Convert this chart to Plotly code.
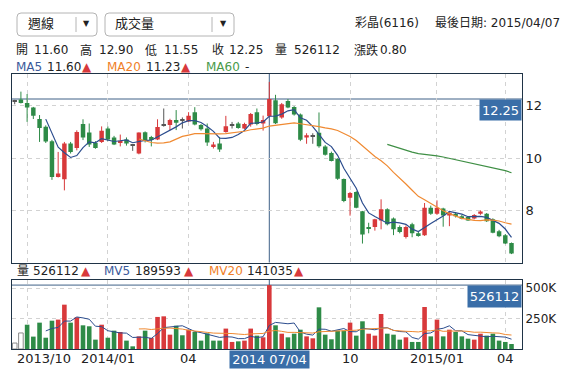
import plotly.graph_objects as go
import pandas as pd

# ---------------- data (weekly bars) ----------------
opens = [12.17, 12.23, 12.10, 11.93, 11.49, 11.20, 10.65, 9.29, 9.20, 10.56,
         10.39, 11.30, 10.98, 10.58, 10.62, 11.13, 10.79, 10.58, 10.71, 10.50,
         10.18, 10.99, 10.81, 10.71, 11.28, 11.26, 11.45, 11.45, 11.40, 11.75,
         11.26, 11.13, 10.43, 10.56, 11.00, 11.28, 11.32, 11.13, 11.28, 11.75,
         11.32, 11.60, 12.20, 11.55, 12.17, 11.95, 11.66, 10.79, 10.85, 10.97,
         10.45, 10.20, 9.98, 9.21, 8.50, 8.72, 7.99, 7.39, 7.39, 7.64,
         8.06, 7.71, 7.39, 7.01, 7.49, 7.15, 7.08, 8.12, 7.89, 8.09,
         7.83, 7.89, 7.80, 7.77, 7.71, 7.89, 7.89, 7.68, 7.23, 7.08,
         6.78]
highs = [12.22, 12.53, 12.44, 11.95, 11.64, 11.25, 10.70, 10.24, 10.62, 10.62,
         11.06, 11.48, 11.32, 10.65, 11.21, 11.21, 10.85, 10.90, 10.79, 10.52,
         10.98, 11.02, 10.85, 11.48, 11.89, 11.50, 11.83, 11.55, 11.75, 11.94,
         11.30, 11.32, 10.62, 10.81, 11.61, 11.38, 11.38, 11.35, 11.72, 11.89,
         11.62, 12.90, 12.41, 12.10, 12.25, 11.98, 11.70, 10.95, 10.95, 11.74,
         10.50, 10.25, 10.00, 9.23, 8.72, 8.75, 8.00, 7.55, 7.70, 8.44,
         8.10, 7.75, 7.45, 7.45, 7.55, 7.20, 8.30, 8.20, 8.40, 8.12,
         7.95, 7.95, 7.85, 7.80, 7.88, 8.02, 7.92, 7.72, 7.28, 7.12,
         6.80]
lows = [12.05, 12.08, 11.38, 11.49, 10.62, 10.58, 9.18, 9.27, 8.78, 10.18,
        10.30, 10.69, 10.43, 10.36, 10.58, 10.65, 10.50, 10.45, 10.48, 10.28,
        10.15, 10.60, 10.45, 10.69, 11.20, 11.06, 11.07, 11.13, 11.38, 11.25,
        11.05, 10.47, 10.37, 10.24, 10.97, 11.13, 11.12, 11.10, 11.20, 11.25,
        11.05, 11.55, 11.30, 11.50, 11.90, 11.62, 10.65, 10.55, 10.55, 10.40,
        10.10, 9.88, 9.18, 8.33, 7.82, 8.10, 6.76, 7.15, 7.25, 7.30,
        7.45, 7.08, 7.15, 6.95, 7.00, 7.02, 7.05, 7.85, 7.85, 7.40,
        7.42, 7.75, 7.68, 7.62, 7.68, 7.85, 7.58, 7.15, 7.00, 6.74,
        6.36]
closes = [12.17, 12.10, 11.93, 11.61, 11.15, 10.64, 9.29, 9.42, 10.56, 10.24,
          11.00, 10.79, 10.52, 10.39, 11.04, 10.71, 10.52, 10.66, 10.56, 10.50,
          10.98, 10.69, 10.69, 11.19, 11.28, 11.45, 11.35, 11.45, 11.61, 11.28,
          11.10, 10.60, 10.52, 10.33, 11.22, 11.28, 11.15, 11.30, 11.68, 11.30,
          11.45, 12.25, 11.33, 12.05, 11.93, 11.66, 10.70, 10.87, 10.85, 10.46,
          10.13, 9.90, 9.22, 8.38, 8.68, 8.12, 7.10, 7.34, 7.68, 8.06,
          7.49, 7.30, 7.20, 7.39, 7.15, 7.05, 8.12, 7.89, 8.12, 7.83,
          7.93, 7.80, 7.70, 7.64, 7.84, 7.98, 7.61, 7.17, 7.04, 6.76,
          6.38]
volumes = [49000, 132000, 200000, 102000, 217000, 93000, 233000, 242000, 365000, 217000,
           261000, 195000, 187000, 77000, 200000, 93000, 151000, 140000, 69000, 22000,
           104000, 151000, 91000, 264000, 269000, 118000, 192000, 113000, 159000, 140000,
           69000, 129000, 69000, 69000, 168000, 58000, 63000, 69000, 168000, 110000,
           96000, 526112, 195000, 126000, 96000, 126000, 159000, 104000, 88000, 343000,
           118000, 80000, 151000, 151000, 217000, 110000, 228000, 126000, 110000, 288000,
           126000, 118000, 77000, 96000, 58000, 58000, 346000, 104000, 242000, 104000,
           159000, 140000, 104000, 85000, 77000, 126000, 110000, 126000, 69000, 58000,
           41000]
# volume bar direction as drawn: u = up (red), d = down (green), n = neutral (hollow)
volume_dir = "".join([
    "nnddddduud",
    "uddduddudd",
    "uduuuuddud",
    "dddduuduud",
    "uududdduud",
    "ddddudduuu",
    "ddduddudud",
    "uddduudddd",
    "d",
])

month_grid = [2, 15, 28, 41, 54, 68, 79]
tick_index = [15, 28, 54, 68, 79]
tick_labels = ["2014/01", "04", "10", "2015/01", "04"]
first_tick_label = "2013/10"
cross_index = 41
cross_label = "2014 07/04"
cross_close = 12.25
cross_volume = 526112
price_ticks = [8, 10, 12]
vol_ticks = [250000, 500000]
vol_tick_labels = ["250K", "500K"]

# ---------------- styling ----------------
FONT = "DejaVu Sans, Noto Sans CJK TC, sans-serif"
RED, GREEN, DOJI = "#d8393b", "#2e8b47", "#555555"
BLUE_MA, ORANGE_MA, GREEN_MA = "#2c4d8e", "#f08a32", "#3f8f45"
GRID, FRAME, CROSS, TAG = "#d2d2d2", "#1f3346", "#3f6187", "#3a6ea8"
TXT = "#222222"


def px_x(px):
    return (px - 12) / 510


def px_y(py):
    return (349 - py) / 275


n = len(closes)
idx = list(range(n))
fig = go.Figure()

up = [i for i in idx if closes[i] > opens[i]]
down = [i for i in idx if closes[i] < opens[i]]
flat = [i for i in idx if closes[i] == opens[i]]

for ids, col in ((up, RED), (down, GREEN), (flat, DOJI)):
    xs, ys = [], []
    for i in ids:
        xs += [i, i, None]
        ys += [lows[i], highs[i], None]
    fig.add_trace(go.Scatter(x=xs, y=ys, mode="lines", line=dict(color=col, width=1),
                             xaxis="x", yaxis="y", hoverinfo="skip", showlegend=False))
    fig.add_trace(go.Bar(
        x=ids,
        y=[max(abs(closes[i] - opens[i]), 0.04) for i in ids],
        base=[min(opens[i], closes[i]) - (0.02 if closes[i] == opens[i] else 0) for i in ids],
        width=0.72, marker=dict(color=col, line=dict(width=0)),
        xaxis="x", yaxis="y", showlegend=False))


def moving_average(values, k):
    m = pd.Series(values, dtype=float).rolling(k).mean()
    m.iloc[:k] = float("nan")
    return m.tolist()


for k, col in ((5, BLUE_MA), (20, ORANGE_MA), (60, GREEN_MA)):
    fig.add_trace(go.Scatter(x=idx, y=moving_average(closes, k), mode="lines",
                             line=dict(color=col, width=1.2), xaxis="x", yaxis="y",
                             hoverinfo="skip", showlegend=False))

# volume
for key, fill, edge in (("u", RED, RED), ("d", GREEN, GREEN), ("n", "white", "#8a8a8a")):
    ids = [i for i in idx if volume_dir[i] == key]
    fig.add_trace(go.Bar(x=ids, y=[volumes[i] for i in ids], width=0.74,
                         marker=dict(color=fill, line=dict(color=edge, width=1 if key == "n" else 0)),
                         xaxis="x2", yaxis="y2", showlegend=False))
for k, col in ((5, BLUE_MA), (20, ORANGE_MA)):
    fig.add_trace(go.Scatter(x=idx, y=moving_average(volumes, k), mode="lines",
                             line=dict(color=col, width=1), xaxis="x2", yaxis="y2",
                             hoverinfo="skip", showlegend=False))

# the month grid line under the crosshair is hidden by it
grid_x = [g for g in month_grid if g != cross_index]
axis_common = dict(showgrid=True, gridcolor=GRID, griddash="4px,4px", zeroline=False,
                   showline=True, mirror=True, linecolor=FRAME, linewidth=1, ticks="")

fig.update_layout(
    width=576, height=379,
    margin=dict(l=12, r=54, t=74, b=30, autoexpand=False),
    paper_bgcolor="white", plot_bgcolor="white", barmode="overlay", showlegend=False,
    font=dict(family=FONT, size=12, color=TXT),
    xaxis=dict(domain=[0, 1], anchor="y", range=[-0.435, 81.69], tickvals=grid_x,
               showticklabels=False, **axis_common),
    yaxis=dict(domain=[0.3145, 1], anchor="x", range=[6.04, 13.2], side="right",
               tickvals=price_ticks, tickfont=dict(size=13, color=TXT), **axis_common),
    xaxis2=dict(domain=[0, 1], anchor="y2", range=[-0.435, 81.69], tickvals=grid_x,
                showticklabels=False, **axis_common),
    yaxis2=dict(domain=[0, 0.2509], anchor="x2", range=[0, 568000], side="right",
                tickvals=vol_ticks, ticktext=vol_tick_labels,
                tickfont=dict(size=12, color=TXT), **axis_common),
)

# crosshair
shapes = [
    dict(type="line", xref="x", yref="y domain", x0=cross_index, x1=cross_index, y0=0, y1=1,
         line=dict(color=CROSS, width=1), layer="below"),
    dict(type="line", xref="x domain", yref="y", x0=0, x1=1, y0=cross_close, y1=cross_close,
         line=dict(color=CROSS, width=1), layer="below"),
    dict(type="line", xref="x2", yref="y2 domain", x0=cross_index, x1=cross_index, y0=0, y1=1,
         line=dict(color=CROSS, width=1), layer="below"),
    dict(type="line", xref="x2 domain", yref="y2", x0=0, x1=1, y0=cross_volume, y1=cross_volume,
         line=dict(color=CROSS, width=1), layer="below"),
]


def rounded_box(x0, y0, x1, y1, r=4):
    X = px_x
    Y = px_y
    return ("M {a},{b} L {c},{b} Q {d},{b} {d},{e} L {d},{f} Q {d},{g} {c},{g} "
            "L {a},{g} Q {h},{g} {h},{f} L {h},{e} Q {h},{b} {a},{b} Z").format(
        a=X(x0 + r), b=Y(y0), c=X(x1 - r), d=X(x1), e=Y(y0 + r), f=Y(y1 - r), g=Y(y1), h=X(x0))


for (bx0, bx1, sep) in ((17, 97, 76), (105, 234, 212)):
    shapes.append(dict(type="path", xref="paper", yref="paper", path=rounded_box(bx0, 13, bx1, 36),
                       line=dict(color="#b4b4b4", width=1), fillcolor="white"))
    shapes.append(dict(type="line", xref="paper", yref="paper", x0=px_x(sep), x1=px_x(sep),
                       y0=px_y(17), y1=px_y(32), line=dict(color="#b4b4b4", width=1)))
fig.update_layout(shapes=shapes)

ann = []


def txt(s, px, py, color=TXT, size=12, anchor="left"):
    ann.append(dict(text=s, xref="paper", yref="paper", x=px_x(px), y=px_y(py),
                    xanchor=anchor, yanchor="middle", showarrow=False,
                    font=dict(family=FONT, size=size, color=color)))


# top row
txt("週線", 26, 24, size=13)
txt("▼", 86, 24, size=8, anchor="center")
txt("成交量", 113, 24, size=13)
txt("▼", 223, 24, size=8, anchor="center")
txt("彩晶(6116)", 353, 23)
txt("最後日期: 2015/04/07", 433, 23)

# OHLC row
for s, x in (("開", 14), ("11.60", 32), ("高", 78), ("12.90", 97), ("低", 143), ("11.55", 162),
             ("收", 210), ("12.25", 227), ("量", 273), ("526112", 292), ("漲跌", 352), ("0.80", 378)):
    txt(s, x, 50)

# MA row
txt("MA5", 14, 67, color="#3b5a9a")
txt("11.60", 45, 67)
txt("▲", 80, 67, color=RED)
txt("MA20", 105, 67, color="#f07f2a")
txt("11.23", 144, 67)
txt("▲", 179, 67, color=RED)
txt("MA60", 204, 67, color="#4a9a4a")
txt("-", 243, 67)

# volume header row
txt("量", 15, 271)
txt("526112", 31, 271)
txt("▲", 79, 271, color=RED)
txt("MV5", 102, 271, color="#3b5a9a")
txt("189593", 133, 271)
txt("▲", 182, 271, color=RED)
txt("MV20", 207, 271, color="#f07f2a")
txt("141035", 245, 271)
txt("▲", 292, 271, color=RED)

# x labels
txt(first_tick_label, 15, 358, size=13)
for ti, tl in zip(tick_index, tick_labels):
    ann.append(dict(text=tl, xref="x2", yref="paper", x=ti, y=px_y(358), xanchor="center",
                    yanchor="middle", showarrow=False, font=dict(family=FONT, size=13, color=TXT)))

# value tags
ann.append(dict(text=cross_label, xref="x2", yref="paper", x=cross_index, y=px_y(350),
                xanchor="center", yanchor="top", showarrow=False, bgcolor=TAG,
                width=75, height=13, borderpad=2, font=dict(family=FONT, size=13, color="white")))
ann.append(dict(text=f"{cross_close:.2f}", xref="paper", yref="y", x=1, y=cross_close,
                xanchor="right", yanchor="top", showarrow=False, bgcolor=TAG,
                width=37, height=16, borderpad=2, font=dict(family=FONT, size=13, color="white")))
ann.append(dict(text=str(cross_volume), xref="paper", yref="y2", x=1, y=cross_volume,
                xanchor="right", yanchor="top", showarrow=False, bgcolor=TAG,
                width=49, height=17, borderpad=2, font=dict(family=FONT, size=13, color="white")))

fig.update_layout(annotations=ann)
fig.write_html("out.html", config={"displayModeBar": False},
               post_script="document.body.style.margin='0';")
